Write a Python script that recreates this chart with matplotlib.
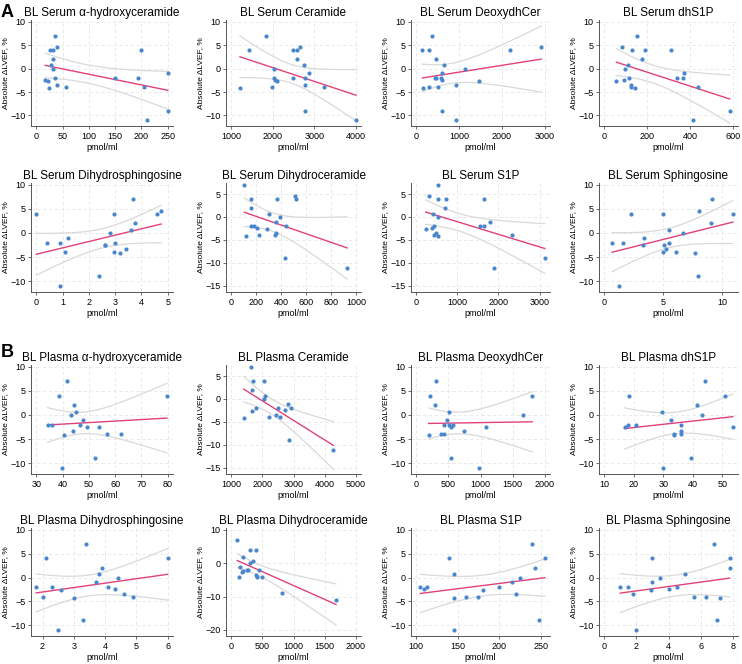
import numpy as np
import matplotlib
matplotlib.use('Agg')
import matplotlib.pyplot as plt

plt.rcParams['font.family'] = ['Liberation Sans', 'DejaVu Sans']

# shared outcome values (absolute change in LVEF, %)
y_serum = [7, 4.6, 4, 4, 4, 2, 0.7, 0, -1, -2, -2, -2, -2.4, -2.6, -3.4, -4, -4, -4.2, -9, -11]
y_plasma = [7, 4, 4, 2, 0.7, 0, -1, -2, -2, -2, -2.4, -2.6, -3.4, -4, -4, -4.2, -9, -11]

# serum sphingolipids, pmol/ml
serum_ahc = [36, 39, 27, 31, 200, 31, 28, 32, 250, 36, 150, 193, 17, 22, 39, 56, 205, 25, 250, 211]
serum_cer = [1850, 2654, 1438, 2485, 2592, 2592, 2754, 2020, 2869, 2023, 2485, 2785, 2054, 2092, 2770, 1977, 3231, 1215, 2770, 4000]
serum_deoxy = [377, 2915, 146, 308, 2177, 462, 654, 1138, 592, 438, 462, 577, 608, 1469, 923, 308, 515, 162, 608, 923]
serum_dhs1p = [154, 83, 129, 189, 311, 175, 111, 98, 372, 114, 340, 368, 91, 57, 123, 123, 437, 142, 585, 412]
serum_dhsph = [3.67, 4.75, 0, 2.94, 4.6, 3.74, 3.61, 2.81, 1.2, 0.41, 0.91, 3.0, 2.6, 2.62, 3.4, 1.1, 2.94, 3.2, 2.39, 0.91]
serum_dhcer = [106, 511, 157, 367, 519, 157, 301, 392, 360, 160, 182, 443, 208, 290, 360, 225, 352, 119, 430, 929]
serum_s1p = [535, 318, 535, 721, 1651, 705, 411, 527, 1790, 442, 1560, 1650, 395, 233, 473, 442, 2330, 527, 3130, 1900]
serum_sph = [9.13, 8.0, 2.27, 5.0, 10.9, 9.02, 5.49, 6.69, 3.36, 0.67, 1.57, 5.49, 5.1, 3.3, 5.24, 4.96, 6.05, 7.7, 7.95, 1.26]

# plasma sphingolipids, pmol/ml
plasma_ahc = [41.5, 38.8, 79.7, 44.2, 45, 43.2, 47.8, 34.3, 36, 46.5, 53.7, 49.2, 44, 57, 62.4, 40.6, 52.2, 39.8]
plasma_cer = [1633, 1694, 2041, 1673, 2102, 2041, 2837, 1786, 2500, 2918, 2714, 1663, 2429, 2224, 2582, 1408, 2867, 4276]
plasma_deoxy = [308, 210, 1805, 300, 508, 1667, 477, 436, 513, 579, 538, 1090, 740, 379, 436, 195, 543, 974]
plasma_dhs1p = [44.3, 18.4, 50.9, 41.3, 29.7, 43.3, 32.8, 18.2, 20.8, 36.0, 53.6, 16.9, 36.0, 33.5, 36.2, 33.7, 39.3, 29.9]
plasma_dhsph = [3.4, 2.1, 6.0, 3.9, 3.8, 4.4, 3.7, 1.8, 2.3, 4.1, 4.3, 2.6, 4.6, 2.0, 4.9, 3.0, 3.3, 2.5]
plasma_dhcer = [100, 300, 400, 200, 350, 300, 150, 250, 280, 450, 200, 180, 400, 130, 420, 500, 820, 1680]
plasma_s1p = [240, 140, 255, 243, 145, 225, 215, 105, 113, 200, 110, 180, 220, 160, 175, 145, 248, 145]
plasma_sph = [6.8, 3.0, 7.8, 7.8, 5.0, 3.5, 3.0, 1.0, 1.5, 4.5, 4.0, 2.9, 1.8, 5.6, 6.3, 7.2, 7.0, 2.0]

titles = ['BL Serum α-hydroxyceramide', 'BL Serum Ceramide', 'BL Serum DeoxydhCer', 'BL Serum dhS1P',
          'BL Serum Dihydrosphingosine', 'BL Serum Dihydroceramide', 'BL Serum S1P', 'BL Serum Sphingosine',
          'BL Plasma α-hydroxyceramide', 'BL Plasma Ceramide', 'BL Plasma DeoxydhCer', 'BL Plasma dhS1P',
          'BL Plasma Dihydrosphingosine', 'BL Plasma Dihydroceramide', 'BL Plasma S1P', 'BL Plasma Sphingosine']

xs = [serum_ahc, serum_cer, serum_deoxy, serum_dhs1p,
      serum_dhsph, serum_dhcer, serum_s1p, serum_sph,
      plasma_ahc, plasma_cer, plasma_deoxy, plasma_dhs1p,
      plasma_dhsph, plasma_dhcer, plasma_s1p, plasma_sph]

xticks = [[0, 50, 100, 150, 200, 250], [1000, 2000, 3000, 4000], [0, 1000, 2000, 3000], [0, 200, 400, 600],
          [0, 1, 2, 3, 4, 5], [0, 200, 400, 600, 800, 1000], [0, 1000, 2000, 3000], [0, 5, 10],
          [30, 40, 50, 60, 70, 80], [1000, 2000, 3000, 4000, 5000], [0, 500, 1000, 1500, 2000], [10, 20, 30, 40, 50],
          [2, 3, 4, 5, 6], [0, 500, 1000, 1500, 2000], [100, 150, 200, 250], [0, 2, 4, 6, 8]]

yt_a = [-10, -5, 0, 5, 10]
yt_b = [-15, -10, -5, 0, 5]
yt_c = [-20, -10, 0, 10]
yticks = [yt_a, yt_a, yt_a, yt_a,
          yt_a, yt_b, yt_b, yt_a,
          yt_a, yt_b, yt_a, yt_a,
          yt_a, yt_c, yt_a, yt_a]

W, H = 742, 664
fig = plt.figure(figsize=(W / 100, H / 100), dpi=100)

col_px = [(31, 173), (226, 361), (411, 550), (599, 738)]
row_px = [(20, 126), (183, 292), (365, 474), (528, 636)]

dot_col = '#4a86cc'
line_col = '#e2407a'
ci_col = '#d9d9d9'
t95 = {18: 2.101, 16: 2.120}

for i in range(16):
    r, c = divmod(i, 4)
    x0, x1 = col_px[c]
    y0, y1 = row_px[r]
    ax = fig.add_axes([x0 / W, 1 - y1 / H, (x1 - x0) / W, (y1 - y0) / H])
    x = np.array(xs[i], dtype=float)
    y = np.array(y_serum if i < 8 else y_plasma, dtype=float)

    # linear fit with 95% CI of the mean
    n = len(x)
    b, a = np.polyfit(x, y, 1)
    xf = np.linspace(x.min(), x.max(), 100)
    yf = a + b * xf
    resid = y - (a + b * x)
    s = np.sqrt(np.sum(resid ** 2) / (n - 2))
    se = s * np.sqrt(1 / n + (xf - x.mean()) ** 2 / np.sum((x - x.mean()) ** 2))
    tq = t95.get(n - 2, 2.1)
    ax.plot(xf, yf + tq * se, color=ci_col, lw=0.9, zorder=2)
    ax.plot(xf, yf - tq * se, color=ci_col, lw=0.9, zorder=2)
    ax.plot(xf, yf, color=line_col, lw=1.0, zorder=3)
    ax.scatter(x, y, s=9, color=dot_col, zorder=4, linewidths=0)

    xt = xticks[i]
    lo = min(xt[0], x.min())
    hi = max(xt[-1], x.max())
    pad = 0.04 * (hi - lo)
    ax.set_xlim(lo - pad, hi + pad)
    ax.set_xticks(xt)

    yt = yticks[i]
    ylo = min(yt[0], y.min())
    yhi = max(yt[-1], y.max())
    ypad = 0.06 * (yhi - ylo)
    ax.set_ylim(ylo - ypad, yhi + ypad * 0.3)
    ax.set_yticks(yt)

    ax.grid(True, color='#e6e6e6', lw=0.6, ls=(0, (4, 3)))
    ax.set_axisbelow(True)
    for sp in ['top', 'right']:
        ax.spines[sp].set_visible(False)
    for sp in ['left', 'bottom']:
        ax.spines[sp].set_color('#555555')
        ax.spines[sp].set_linewidth(0.7)
    ax.tick_params(labelsize=6.5, length=2.5, width=0.6, color='#555555', pad=1.5)
    ax.set_title(titles[i], fontsize=8.5, pad=3)
    ax.set_xlabel('pmol/ml', fontsize=6.5, labelpad=2)
    ax.set_ylabel('Absolute ΔLVEF, %', fontsize=6, labelpad=1)

fig.text(1 / W, 1 - 17 / H, 'A', fontsize=13, fontweight='bold')
fig.text(1 / W, 1 - 357 / H, 'B', fontsize=13, fontweight='bold')

fig.savefig('out.png', dpi=100)
